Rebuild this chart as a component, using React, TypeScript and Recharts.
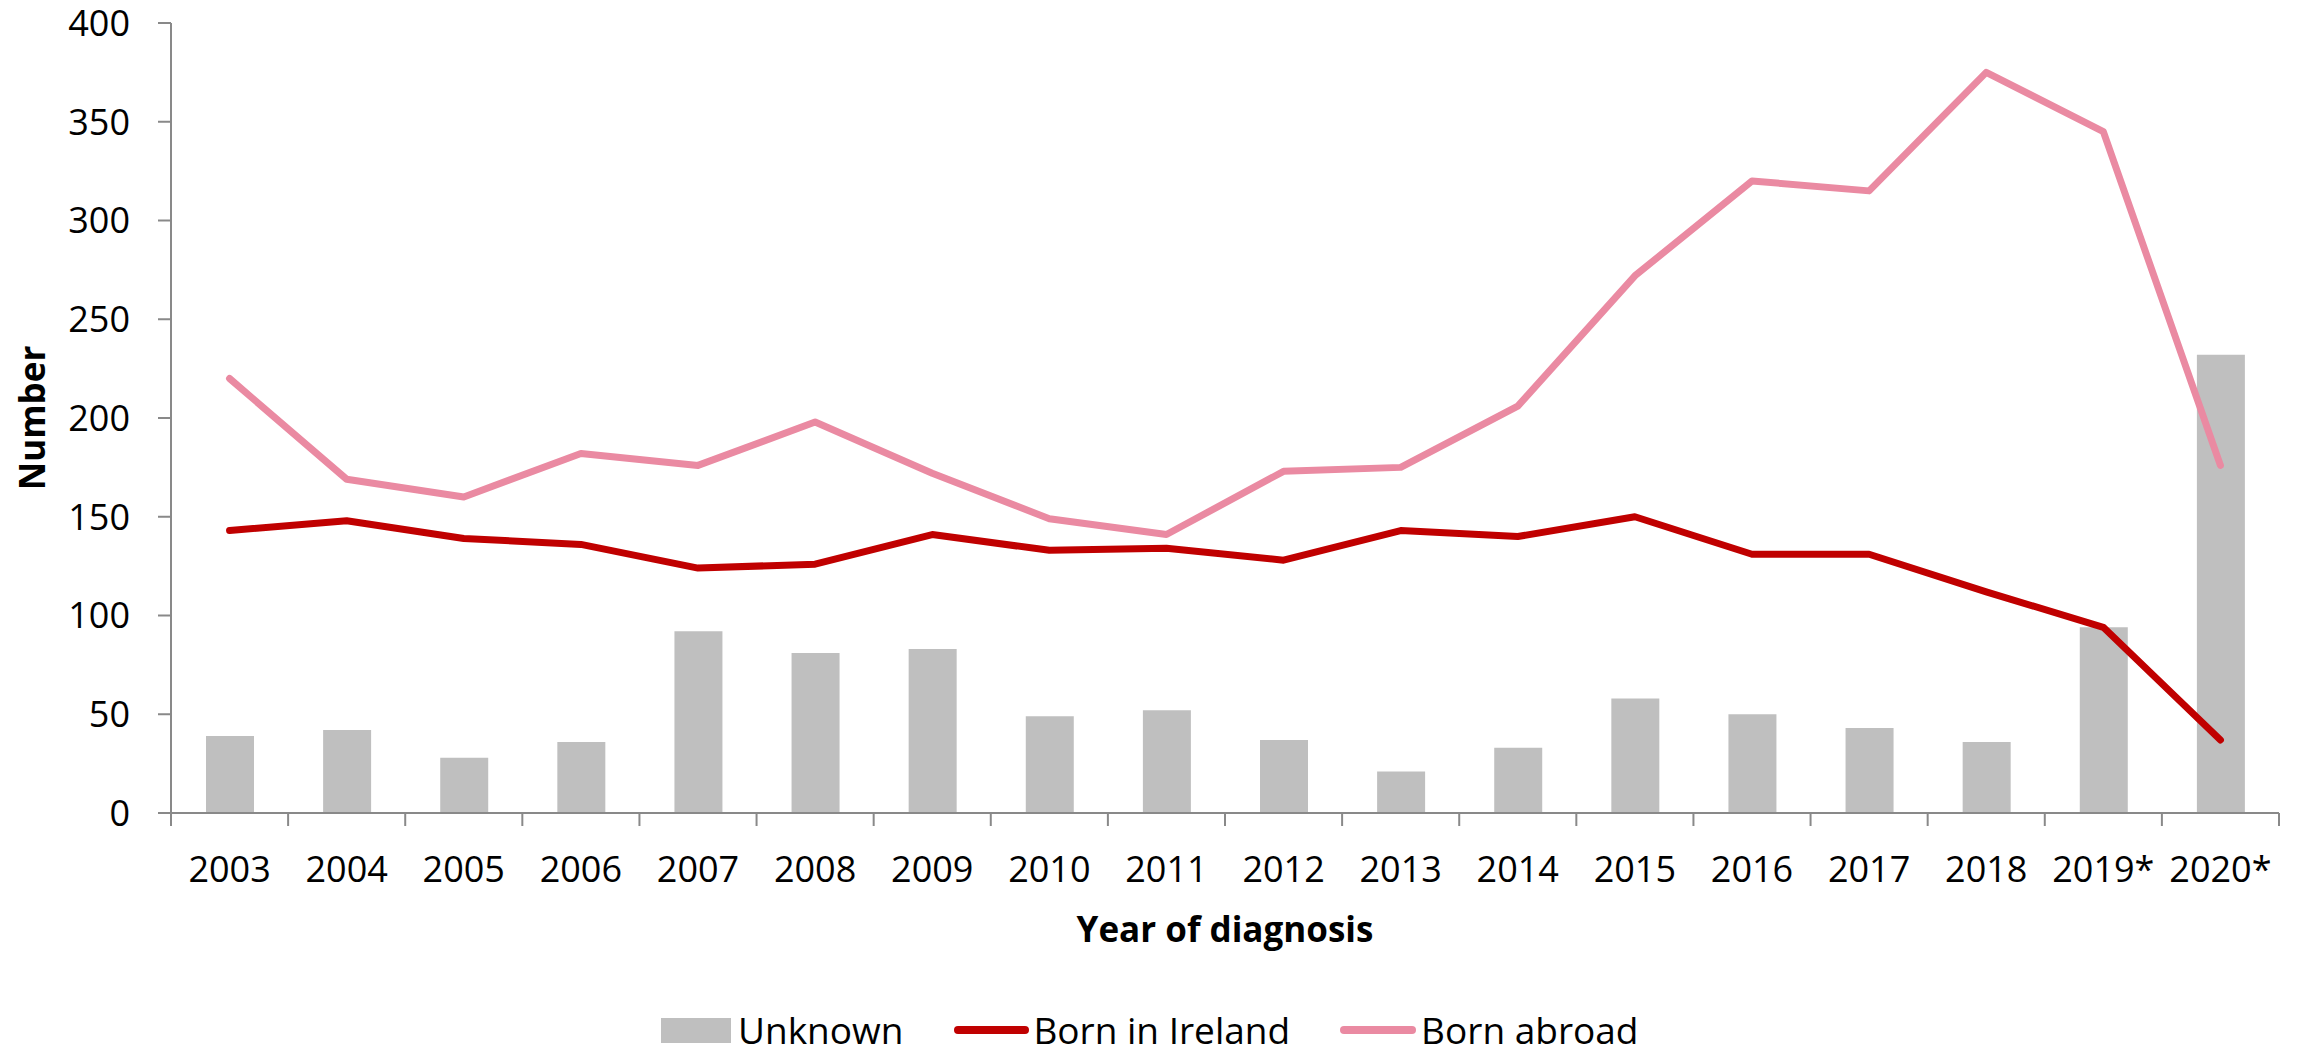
import { Bar, ComposedChart, Legend, Line, XAxis, YAxis } from 'recharts'

const years = [
  '2003', '2004', '2005', '2006', '2007', '2008', '2009', '2010', '2011',
  '2012', '2013', '2014', '2015', '2016', '2017', '2018', '2019*', '2020*',
]
const unknown = [39, 42, 28, 36, 92, 81, 83, 49, 52, 37, 21, 33, 58, 50, 43, 36, 94, 232]
const bornInIreland = [143, 148, 139, 136, 124, 126, 141, 133, 134, 128, 143, 140, 150, 131, 131, 112, 94, 37]
const bornAbroad = [220, 169, 160, 182, 176, 198, 172, 149, 141, 173, 175, 206, 272, 320, 315, 375, 345, 176]
const yTicks = [0, 50, 100, 150, 200, 250, 300, 350, 400]

const W = 2303
const H = 1052
const Y_AXIS_W = 171
const RIGHT = 24
const STEP = (W - Y_AXIS_W - RIGHT) / years.length
const FONT = '"Open Sans", sans-serif'
const AXIS = '#898989'
const GREY = '#BFBFBF'
const RED = '#C00000'
const PINK = '#EA8AA2'

const data = years.map((year, i) => ({
  year,
  unknown: unknown[i],
  ireland: bornInIreland[i],
  abroad: bornAbroad[i],
}))

const XTick = (props: any) => {
  const { x, y, payload, index } = props
  const left = x - STEP / 2
  return (
    <g>
      <line x1={left} x2={left} y1={y} y2={y + 13} stroke={AXIS} strokeWidth={2} />
      {index === years.length - 1 && (
        <line x1={x + STEP / 2} x2={x + STEP / 2} y1={y} y2={y + 13} stroke={AXIS} strokeWidth={2} />
      )}
      <text x={x} y={y + 69} textAnchor='middle' fill='#000' fontSize={36} fontFamily={FONT}>
        {payload.value}
      </text>
    </g>
  )
}

const renderLegend = () => (
  <div
    style={{
      display: 'flex',
      alignItems: 'center',
      height: 40,
      paddingLeft: 661,
      fontFamily: FONT,
      fontSize: 37,
      lineHeight: '40px',
      color: '#000',
    }}
  >
    <span style={{ width: 70, height: 25, background: GREY, marginRight: 7 }} />
    <span style={{ marginRight: 51 }}>Unknown</span>
    <span style={{ width: 75, height: 8, borderRadius: 4, background: RED, marginRight: 4 }} />
    <span style={{ marginRight: 50 }}>Born in Ireland</span>
    <span style={{ width: 76, height: 8, borderRadius: 4, background: PINK, marginRight: 5 }} />
    <span>Born abroad</span>
  </div>
)

const App = () => (
  <div style={{ position: 'absolute', left: 0, top: 0, background: '#fff' }}>
    <ComposedChart
      width={W}
      height={H}
      data={data}
      margin={{ top: 23, right: RIGHT, left: 0, bottom: 2 }}
    >
      <XAxis
        dataKey='year'
        height={197}
        axisLine={{ stroke: AXIS, strokeWidth: 2 }}
        tickLine={false}
        tickSize={0}
        tickMargin={0}
        interval={0}
        tick={<XTick />}
        label={{
          content: (p: any) => (
            <text
              x={p.viewBox.x + p.viewBox.width / 2}
              y={942}
              textAnchor='middle'
              fontSize={35}
              fontWeight='bold'
              fontFamily={FONT}
              fill='#000'
            >
              Year of diagnosis
            </text>
          ),
        }}
      />
      <YAxis
        width={Y_AXIS_W}
        domain={[0, 400]}
        ticks={yTicks}
        interval={0}
        axisLine={{ stroke: AXIS, strokeWidth: 2 }}
        tickLine={{ stroke: AXIS, strokeWidth: 2 }}
        tickSize={13}
        tickMargin={28}
        tick={{ fill: '#000', fontSize: 36, fontFamily: FONT }}
        label={{
          content: (p: any) => {
            const cy = p.viewBox.y + p.viewBox.height / 2
            return (
              <text
                x={31}
                y={cy}
                transform={`rotate(-90 31 ${cy})`}
                textAnchor='middle'
                dominantBaseline='central'
                fontSize={35}
                fontWeight='bold'
                fontFamily={FONT}
                fill='#000'
              >
                Number
              </text>
            )
          },
        }}
      />
      <Legend verticalAlign='bottom' content={renderLegend} wrapperStyle={{ left: 0, width: W, height: 40 }} />
      <Bar dataKey='unknown' name='Unknown' fill={GREY} barSize={48} isAnimationActive={false} />
      <Line
        dataKey='ireland'
        name='Born in Ireland'
        stroke={RED}
        strokeWidth={7}
        strokeLinecap='round'
        strokeLinejoin='round'
        dot={false}
        activeDot={false}
        isAnimationActive={false}
      />
      <Line
        dataKey='abroad'
        name='Born abroad'
        stroke={PINK}
        strokeWidth={7}
        strokeLinecap='round'
        strokeLinejoin='round'
        dot={false}
        activeDot={false}
        isAnimationActive={false}
      />
    </ComposedChart>
  </div>
)

export default App
